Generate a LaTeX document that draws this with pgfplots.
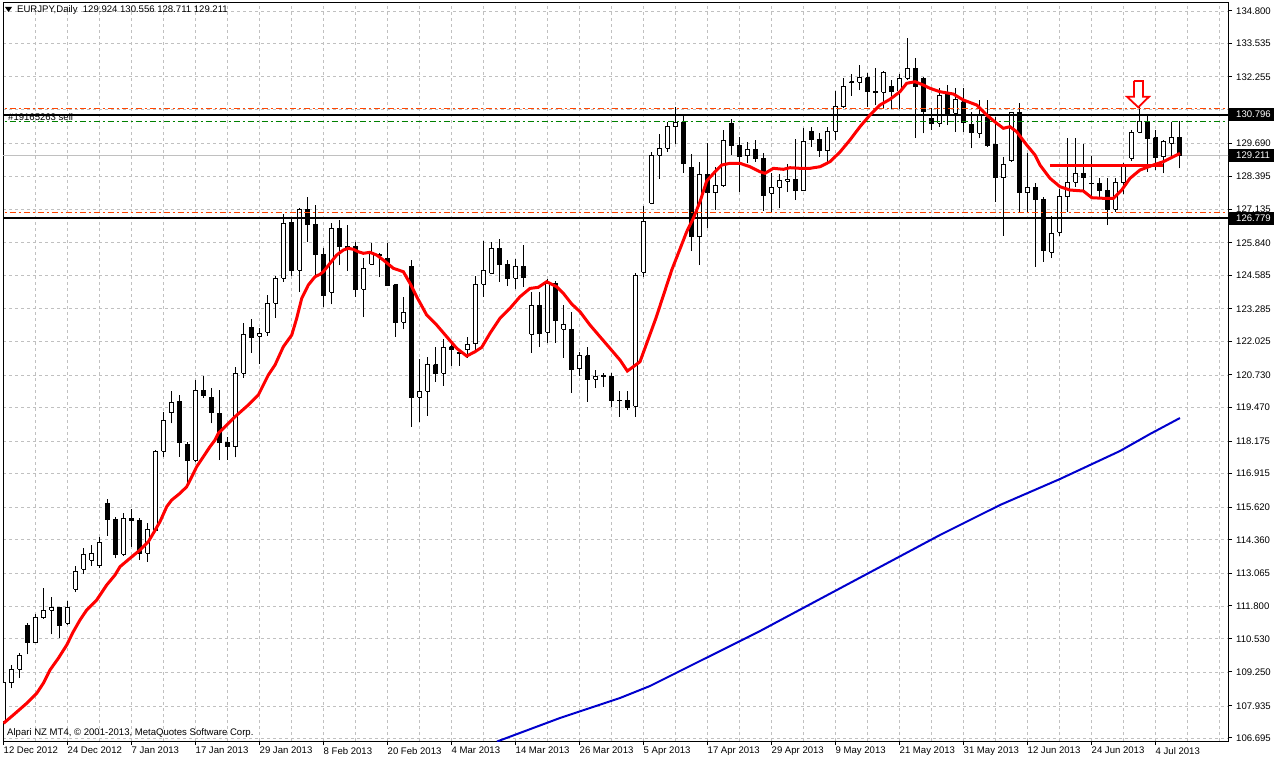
\documentclass[border=0pt]{standalone}
\usepackage{pgfplots}
\usepackage{pgfplotstable}
\pgfplotsset{compat=1.18}
\usepackage{fontspec}
\setmainfont{Liberation Sans}
\newcommand{\mtfont}{\fontsize{9.6}{11}\selectfont}
\definecolor{mtgrid}{RGB}{192,192,192}
\definecolor{mtorange}{RGB}{255,69,0}
\definecolor{mtgreen}{RGB}{0,128,0}
\definecolor{mtblue}{RGB}{0,0,205}
\definecolor{mtred}{RGB}{255,0,0}

\pgfplotstableread{
n o h l c
0 107.325 109.002 107.197 108.832
1 108.832 109.516 108.616 109.362
2 109.350 109.992 109.026 109.891
3 111.063 111.139 109.930 110.378
4 110.378 111.476 110.348 111.360
5 111.345 112.481 111.295 111.642
6 111.631 112.133 110.703 111.747
7 111.747 111.770 110.572 111.036
8 111.128 111.990 111.063 111.747
9 112.443 113.343 112.338 113.150
10 113.227 114.039 113.034 113.769
11 113.575 114.155 113.343 113.845
12 113.355 114.464 113.266 114.238
13 115.767 115.933 114.514 115.133
14 115.160 115.249 113.641 113.796
15 113.796 115.380 113.730 115.187
16 115.187 115.535 114.089 115.094
17 115.110 115.187 113.575 113.834
18 113.834 114.994 113.510 114.762
19 114.735 117.827 114.658 117.777
20 117.777 119.296 117.568 118.975
21 119.269 120.108 118.859 119.671
22 119.721 119.953 117.568 118.109
23 118.059 118.137 116.474 117.429
24 117.429 120.533 117.375 120.135
25 120.147 120.688 119.837 119.926
26 119.876 120.224 118.859 119.269
27 119.246 120.147 117.441 118.125
28 118.125 118.318 117.441 117.955
29 117.955 121.024 117.545 120.792
30 120.792 122.725 120.622 122.300
31 122.570 122.880 121.588 122.168
32 122.222 122.532 121.152 122.338
33 122.377 123.819 122.245 123.498
34 123.498 124.553 122.941 124.464
35 124.464 126.950 124.333 126.590
36 126.629 126.845 124.565 124.774
37 124.774 127.170 123.946 127.131
38 127.131 127.619 125.879 126.552
39 126.552 127.298 124.592 125.392
40 125.404 125.624 123.367 123.792
41 123.923 126.590 123.459 126.397
42 126.397 126.718 124.975 125.686
43 125.713 126.525 124.752 125.624
44 125.713 125.879 123.753 124.039
45 124.039 125.245 122.968 124.859
46 125.013 125.840 124.986 125.431
47 125.404 125.431 124.503 125.338
48 125.245 125.840 124.167 124.194
49 124.206 124.245 122.207 122.764
50 122.764 123.730 122.493 123.150
51 124.940 125.172 118.728 119.849
52 119.864 121.345 118.921 120.096
53 120.096 121.422 119.153 121.132
54 121.132 121.813 120.468 120.792
55 120.792 122.118 120.313 121.771
56 121.822 121.988 121.078 121.694
57 121.601 121.717 121.078 121.562
58 121.694 122.210 121.376 121.887
59 121.926 124.553 121.562 124.232
60 124.232 125.906 123.753 124.758
61 124.658 125.867 124.631 125.624
62 125.624 125.972 124.333 125.013
63 125.013 125.179 124.167 124.464
64 124.464 125.206 124.039 124.925
65 124.925 125.764 124.140 124.503
66 122.300 123.923 121.588 123.421
67 123.421 123.946 121.813 122.338
68 122.377 124.425 121.983 124.270
69 124.270 124.371 121.968 122.852
70 122.504 123.421 121.400 122.698
71 122.504 123.162 120.042 120.939
72 120.977 121.619 120.687 121.465
73 121.465 121.822 119.694 120.559
74 120.570 120.918 120.224 120.687
75 120.725 120.814 120.272 120.660
76 120.687 120.814 119.478 119.733
77 119.760 120.108 119.114 119.741
78 119.760 120.119 119.373 119.478
79 119.528 124.669 119.114 124.592
80 124.707 127.259 124.514 126.679
81 127.363 129.346 127.325 129.219
82 129.219 130.042 128.314 129.490
83 129.490 130.518 129.358 130.352
84 130.325 131.074 129.655 130.495
85 130.495 130.750 128.546 128.910
86 128.767 129.258 125.520 126.071
87 126.071 128.972 124.975 128.485
88 128.485 129.684 126.397 127.773
89 127.773 128.778 127.105 128.071
90 128.044 130.197 128.005 129.791
91 130.456 130.622 129.231 129.590
92 129.617 129.938 127.811 129.192
93 129.204 129.722 128.910 129.451
94 129.451 129.811 128.972 129.088
95 129.103 129.296 127.077 127.657
96 127.750 128.523 127.015 127.981
97 127.981 128.496 127.170 128.264
98 128.214 128.871 127.811 128.291
99 128.291 129.838 127.491 127.850
100 127.850 130.263 127.839 129.772
101 130.158 130.325 129.551 129.838
102 129.838 130.070 129.165 129.397
103 129.397 130.325 128.910 130.158
104 130.158 131.704 129.811 131.098
105 131.098 132.195 131.036 131.871
106 132.065 132.350 131.523 132.026
107 132.041 132.710 131.743 132.222
108 132.222 132.389 131.098 131.677
109 131.693 132.582 131.163 131.654
110 131.654 132.466 131.036 132.412
111 131.898 132.130 130.998 131.677
112 131.704 132.350 131.009 132.195
113 132.195 133.742 132.130 132.582
114 132.582 132.968 129.888 131.871
115 132.195 132.257 130.069 130.904
116 130.649 131.036 130.197 130.456
117 130.456 131.821 130.325 131.550
118 131.666 131.937 130.390 130.815
119 130.842 131.821 130.131 131.384
120 131.291 131.821 130.131 130.495
121 130.429 130.904 129.490 130.093
122 130.069 131.357 129.877 130.777
123 130.711 131.357 129.551 129.617
124 129.655 130.711 127.425 128.353
125 128.353 129.165 126.111 128.883
126 129.010 130.904 128.972 130.881
127 130.881 131.229 127.039 127.773
128 127.773 129.319 126.977 127.981
129 127.981 128.137 124.913 127.518
130 127.530 127.619 125.095 125.558
131 125.481 126.872 125.249 126.215
132 126.254 127.916 126.099 127.646
133 127.619 129.876 127.039 128.175
134 128.175 129.876 128.005 128.523
135 128.523 129.644 127.811 128.353
136 128.137 129.192 127.580 128.129
137 128.137 128.330 127.580 127.878
138 127.878 128.330 126.525 127.131
139 127.131 128.330 127.039 128.160
140 128.160 128.910 127.711 128.778
141 129.103 130.197 128.999 130.093
142 130.108 131.074 130.069 130.545
143 130.545 130.750 128.585 129.876
144 129.899 130.197 128.651 129.142
145 129.165 129.811 128.523 129.772
146 129.683 130.518 129.165 129.899
147 129.924 130.556 128.711 129.211
}\ohlc

\begin{document}
\begin{tikzpicture}
\path[use as bounding box] (0,0) rectangle (1276bp,759bp);
\begin{axis}[
  at={(3bp,18bp)}, anchor=south west,
  width=1225bp, height=738bp, scale only axis,
  xmin=-0.0625, xmax=153.0625,
  ymin=106.579, ymax=135.107,
  axis line style={black, line width=1bp},
  xtick={0,8,...,144},
  xticklabels={12 Dec 2012,24 Dec 2012,7 Jan 2013,17 Jan 2013,29 Jan 2013,8 Feb 2013,20 Feb 2013,4 Mar 2013,14 Mar 2013,26 Mar 2013,5 Apr 2013,17 Apr 2013,29 Apr 2013,9 May 2013,21 May 2013,31 May 2013,12 Jun 2013,24 Jun 2013,4 Jul 2013},
  minor xtick={4,12,...,148,152},
  ytick={106.695,107.935,109.250,110.530,111.800,113.065,114.360,115.620,116.915,118.175,119.470,120.730,122.025,123.285,124.585,125.840,127.135,128.395,129.690,130.975,132.255,133.535,134.800},
  yticklabels={106.695,107.935,109.250,110.530,111.800,113.065,114.360,115.620,116.915,118.175,119.470,120.730,122.025,123.285,124.585,125.840,127.135,128.395,129.690,{},132.255,133.535,134.800},
  grid=both,
  major grid style={mtgrid, dash pattern=on 3bp off 3bp, line width=0.8bp},
  minor grid style={mtgrid, dash pattern=on 3bp off 3bp, line width=0.8bp},
  xtick pos=left, ytick pos=right, yticklabel pos=right,
  tick align=outside,
  major tick length=4bp, minor tick length=0bp,
  tick style={black, line width=1bp},
  every tick label/.append style={font=\mtfont, inner sep=0pt},
  xticklabel style={anchor=north west, yshift=-2bp},
  yticklabel style={anchor=west, xshift=4bp},
]
% bid line
\addplot[mtgrid, line width=1bp, forget plot] coordinates {(-1,129.211) (160,129.211)};
% candles
\pgfplotsinvokeforeach{0,...,147}{
  \pgfplotstablegetelem{#1}{o}\of\ohlc\let\vo\pgfplotsretval
  \pgfplotstablegetelem{#1}{h}\of\ohlc\let\vh\pgfplotsretval
  \pgfplotstablegetelem{#1}{l}\of\ohlc\let\vl\pgfplotsretval
  \pgfplotstablegetelem{#1}{c}\of\ohlc\let\vc\pgfplotsretval
  \pgfmathsetmacro\xa{#1-0.25}
  \pgfmathsetmacro\xb{#1+0.25}
  \ifdim\vc pt>\vo pt\def\bodycol{white}\else\def\bodycol{black}\fi
  \edef\candle{%
    \noexpand\addplot[black,line width=1bp,forget plot] coordinates {(#1,\vl) (#1,\vh)};
    \noexpand\addplot[draw=black,fill=\bodycol,line width=1bp,forget plot] coordinates {(\xa,\vo) (\xb,\vo) (\xb,\vc) (\xa,\vc) (\xa,\vo)};
  }\candle
}
% horizontal levels
\addplot[mtorange, line width=0.9bp, dash pattern=on 6bp off 3bp on 2bp off 3bp, forget plot] coordinates {(-1,131.036) (160,131.036)};
\addplot[mtorange, line width=0.9bp, dash pattern=on 6bp off 3bp on 2bp off 3bp, forget plot] coordinates {(-1,127.000) (160,127.000)};
\addplot[mtgreen, line width=0.9bp, dash pattern=on 6bp off 3bp on 2bp off 3bp, forget plot] coordinates {(-1,130.545) (160,130.545)};
\addplot[black, line width=2bp, forget plot] coordinates {(-1,130.796) (160,130.796)};
\addplot[black, line width=2bp, forget plot] coordinates {(-1,126.779) (160,126.779)};
% red horizontal segment
\addplot[mtred, line width=3bp, forget plot] coordinates {(130.81,128.844) (144.94,128.844)};
% blue moving average
\addplot[mtblue, line width=2bp, forget plot] coordinates {
(61.69,106.559) (69.56,107.468) (77.06,108.241) (80.81,108.705) (87.06,109.671) (94.56,110.829) (102.06,112.068) (109.56,113.305) (117.06,114.542) (124.56,115.701) (132.06,116.706) (139.56,117.789) (143.31,118.446) (147.06,119.064)};
% red moving average
\addplot[mtred, line width=3bp, forget plot] coordinates {
(0,107.263) (1.225,107.584) (2.9,108.036) (4.15,108.422) (4.975,108.809) (5.81,109.323) (6.85,109.775) (7.9,110.288) (8.725,110.804) (9.56,111.256) (10.4,111.642) (11.65,112.029) (12.9,112.609) (13.94,112.995) (14.56,113.316) (15.81,113.641) (17.06,113.962) (18.1,114.283) (18.725,114.607) (19.56,115.056) (20.4,115.635) (21.03,115.895) (22.06,116.153) (22.9,116.408) (23.53,116.795) (24.15,117.181) (24.98,117.568) (25.81,117.955) (26.44,118.214) (26.85,118.473) (28.94,119.114) (30.6,119.567) (31.85,119.953) (33.1,120.726) (33.94,121.113) (34.98,121.820) (36.03,122.273) (36.65,122.918) (37.28,123.691) (38.1,124.205) (38.94,124.526) (39.56,124.618) (39.98,124.719) (40.81,125.044) (41.65,125.364) (42.48,125.558) (43.1,125.624) (43.73,125.585) (44.35,125.492) (44.98,125.431) (45.81,125.469) (46.65,125.364) (47.48,125.172) (48.73,124.851) (49.98,124.719) (50.81,124.271) (51.65,123.753) (52.9,123.045) (54.15,122.659) (55.4,122.207) (56.65,121.758) (57.9,121.460) (58.94,121.627) (59.78,121.797) (60.81,122.338) (62.06,122.918) (63.31,123.305) (64.56,123.753) (65.81,124.074) (66.85,124.116) (67.9,124.333) (69.15,124.140) (69.98,123.884) (71.03,123.471) (72.06,123.173) (73.31,122.659) (74.56,122.207) (75.81,121.758) (77.06,121.306) (77.98,120.881) (78.73,121.047) (79.56,121.240) (81.56,122.930) (83.53,124.786) (84.35,125.431) (85.4,126.266) (86.23,126.784) (87.06,127.425) (87.9,128.225) (88.94,128.585) (89.78,128.844) (90.81,128.910) (92.06,128.910) (93.31,128.778) (94.56,128.585) (95.19,128.523) (96.23,128.716) (97.48,128.678) (98.31,128.740) (99.56,128.716) (100.81,128.716) (102.06,128.778) (103.31,128.972) (104.56,129.347) (105.81,129.811) (107.06,130.325) (108.31,130.777) (109.56,131.164) (110.81,131.384) (112.06,131.677) (112.9,132.002) (113.94,132.064) (114.98,131.936) (115.81,131.809) (117.06,131.677) (118.73,131.588) (119.98,131.357) (121.65,131.163) (122.9,130.777) (124.15,130.456) (124.98,130.263) (125.81,130.325) (126.65,130.131) (127.9,129.617) (128.94,129.231) (129.56,128.844) (130.81,128.330) (132.06,128.005) (133.31,127.877) (134.98,127.839) (136.03,127.580) (137.48,127.557) (138.73,127.557) (139.78,127.878) (140.81,128.330) (142.06,128.651) (143.73,128.844) (144.98,128.972) (146.23,129.165) (147.06,129.296)};
% arrow
\addplot[draw=mtred, fill=white, line width=1.8bp, forget plot] coordinates {
(141.31,132.091) (142.44,132.091) (142.44,131.484) (143.19,131.484) (141.85,131.074) (140.44,131.484) (141.31,131.484) (141.31,132.091)};
\coordinate (sellpt) at (axis cs:0.5,130.545);
\coordinate (R1) at (axis cs:153.0625,130.796);
\coordinate (R2) at (axis cs:153.0625,129.211);
\coordinate (R3) at (axis cs:153.0625,126.779);
\end{axis}
\foreach \c/\t in {R1/130.796, R2/129.211, R3/126.779}{
  \fill[black] ([xshift=1bp,yshift=-6.5bp]\c) rectangle ([xshift=46bp,yshift=6.5bp]\c);
  \node[anchor=west, inner sep=0pt, text=white, font=\mtfont] at ([xshift=8bp]\c) {\t};
}
\node[anchor=south west, inner sep=0.5bp, font=\mtfont] at (sellpt) {\#19165263 sell};
\fill[black] (5bp,752bp) -- (12bp,752bp) -- (8.5bp,747bp) -- cycle;
\node[anchor=west, inner sep=0pt, font=\mtfont] at (17bp,749bp) {EURJPY,Daily\ \ 129.924 130.556 128.711 129.211};
\node[anchor=west, inner sep=0pt, font=\mtfont] at (7bp,25.5bp) {Alpari NZ MT4, © 2001-2013, MetaQuotes Software Corp.};
\end{tikzpicture}
\end{document}
